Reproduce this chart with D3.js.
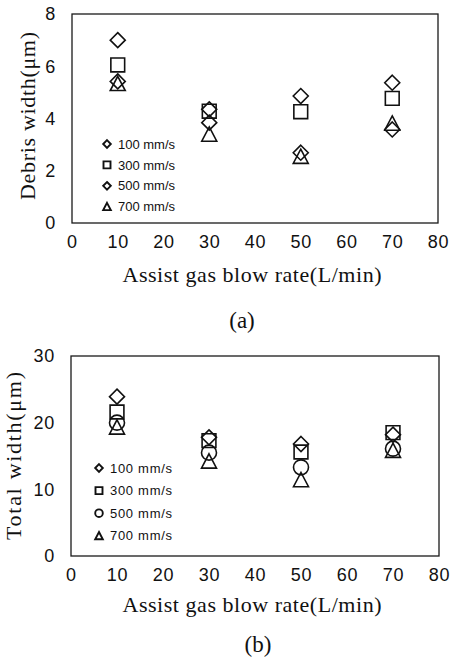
<!DOCTYPE html>
<html>
<head>
<meta charset="utf-8">
<script src="https://cdn.jsdelivr.net/npm/d3@7"></script>
<style>
  body { margin: 0; background: #fff; }
  svg { display: block; }
  .tick text { font-family: "Liberation Sans", Arial, sans-serif; font-size: 18px; fill: #111; letter-spacing: 0.8px; }
  .serif { font-family: "Liberation Serif", "Times New Roman", serif; fill: #111; }
  .legend text { font-family: "Liberation Sans", Arial, sans-serif; font-size: 13px; fill: #111; }
</style>
</head>
<body>
<script>
// --- data ---

const rates = [10, 30, 50, 70];               // assist gas blow rate (L/min)
const speeds = ["100 mm/s", "300 mm/s", "500 mm/s", "700 mm/s"];

// (a) debris width (um)
const debris100 = [7.0, 4.35, 4.86, 5.37];
const debris300 = [6.05, 4.28, 4.26, 4.77];
const debris500 = [5.42, 3.84, 2.69, 3.58];
const debris700 = [5.33, 3.39, 2.54, 3.81];

// (b) total width (um)
const total100 = [23.9, 17.8, 16.8, 18.2];
const total300 = [21.6, 17.3, 15.6, 18.5];
const total500 = [20.0, 15.5, 13.3, 16.1];
const total700 = [19.3, 14.2, 11.4, 15.8];

const xTicks = [0, 10, 20, 30, 40, 50, 60, 70, 80];
const debrisTicks = [0, 2, 4, 6, 8];
const totalTicks = [0, 10, 20, 30];

// --- helpers ---

const svg = d3.select("body").append("svg")
    .attr("width", 457)
    .attr("height", 661);

// marker outlines, r = half width
function markerPath(shape, r) {
    const p = d3.path();
    if (shape === "diamond") {
        p.moveTo(0, -r); p.lineTo(r, 0); p.lineTo(0, r); p.lineTo(-r, 0); p.closePath();
    } else if (shape === "square") {
        p.rect(-r * 0.92, -r * 0.92, r * 1.84, r * 1.84);
    } else if (shape === "circle") {
        p.arc(0, 0, r, 0, 2 * Math.PI);
    } else {
        p.moveTo(0, -r); p.lineTo(r, r * 0.9); p.lineTo(-r, r * 0.9); p.closePath();
    }
    return p.toString();
}

function drawPanel(opt) {
    const g = svg.append("g");

    const x = d3.scaleLinear().domain([0, 80]).range(opt.xRange);
    const y = d3.scaleLinear().domain(opt.yDomain).range(opt.yRange);

    // frame
    g.append("rect")
        .attr("x", opt.xRange[0])
        .attr("y", opt.yRange[1])
        .attr("width", opt.xRange[1] - opt.xRange[0])
        .attr("height", opt.yRange[0] - opt.yRange[1])
        .attr("fill", "none")
        .attr("stroke", "#1a1a1a")
        .attr("stroke-width", 1.3);

    // axes (labels only, no tick marks)
    const xAxis = g.append("g")
        .attr("transform", `translate(0,${opt.yRange[0]})`)
        .call(d3.axisBottom(x).tickValues(xTicks).tickSize(0).tickPadding(opt.xPad));
    xAxis.select(".domain").remove();

    const yAxis = g.append("g")
        .attr("transform", `translate(${opt.xRange[0]},0)`)
        .call(d3.axisLeft(y).tickValues(opt.yTicks).tickSize(0).tickPadding(16));
    yAxis.select(".domain").remove();

    // axis titles
    g.append("text")
        .attr("class", "serif")
        .attr("x", 252)
        .attr("y", opt.xTitleY)
        .attr("text-anchor", "middle")
        .attr("font-size", 22)
        .attr("textLength", 259)
        .attr("lengthAdjust", "spacing")
        .text("Assist gas blow rate(L/min)");

    g.append("text")
        .attr("class", "serif")
        .attr("transform", `translate(${opt.yTitleX},${opt.yTitleCy}) rotate(-90)`)
        .attr("text-anchor", "middle")
        .attr("font-size", 22)
        .attr("textLength", 168)
        .attr("lengthAdjust", "spacing")
        .text(opt.yTitle);

    g.append("text")
        .attr("class", "serif")
        .attr("x", opt.capX)
        .attr("y", opt.capY)
        .attr("text-anchor", "middle")
        .attr("font-size", 23)
        .text(opt.caption);

    // data markers
    opt.series.forEach((vals, i) => {
        g.append("g")
            .selectAll("path")
            .data(vals.map((v, j) => ({ rate: rates[j], value: v })))
            .join("path")
            .attr("transform", d => `translate(${x(d.rate)},${y(d.value)})`)
            .attr("d", markerPath(opt.shapes[i], 7.5))
            .attr("fill", "none")
            .attr("stroke", "#111")
            .attr("stroke-width", 1.6);
    });

    // legend
    const leg = g.append("g").attr("class", "legend");
    speeds.forEach((s, i) => {
        const cy = opt.legY + i * opt.legStep;
        leg.append("path")
            .attr("transform", `translate(${opt.legX},${cy})`)
            .attr("d", markerPath(opt.shapes[i], 3.8))
            .attr("fill", "none")
            .attr("stroke", "#111")
            .attr("stroke-width", 1.9);
        leg.append("text")
            .attr("x", opt.legX + 11)
            .attr("y", cy)
            .attr("dy", "0.36em")
            .attr("textLength", opt.legTextLen)
            .attr("lengthAdjust", "spacing")
            .text(s);
    });
}

drawPanel({
    xRange: [72, 438],
    yDomain: [0, 8],
    yRange: [223, 14],
    yTicks: debrisTicks,
    xPad: 12,
    series: [debris100, debris300, debris500, debris700],
    shapes: ["diamond", "square", "diamond", "triangle"],
    yTitle: "Debris width(\u03bcm)",
    yTitleX: 35,
    yTitleCy: 116,
    xTitleY: 282,
    caption: "(a)",
    capX: 242,
    capY: 328,
    legX: 107,
    legY: 144,
    legStep: 20.9,
    legTextLen: 57
});

drawPanel({
    xRange: [71, 439],
    yDomain: [0, 30],
    yRange: [556, 356],
    yTicks: totalTicks,
    xPad: 12,
    series: [total100, total300, total500, total700],
    shapes: ["diamond", "square", "circle", "triangle"],
    yTitle: "Total width(\u03bcm)",
    yTitleX: 21,
    yTitleCy: 456,
    xTitleY: 612,
    caption: "(b)",
    capX: 258,
    capY: 652,
    legX: 99,
    legY: 468,
    legStep: 22.6,
    legTextLen: 62
});
</script>
</body>
</html>
